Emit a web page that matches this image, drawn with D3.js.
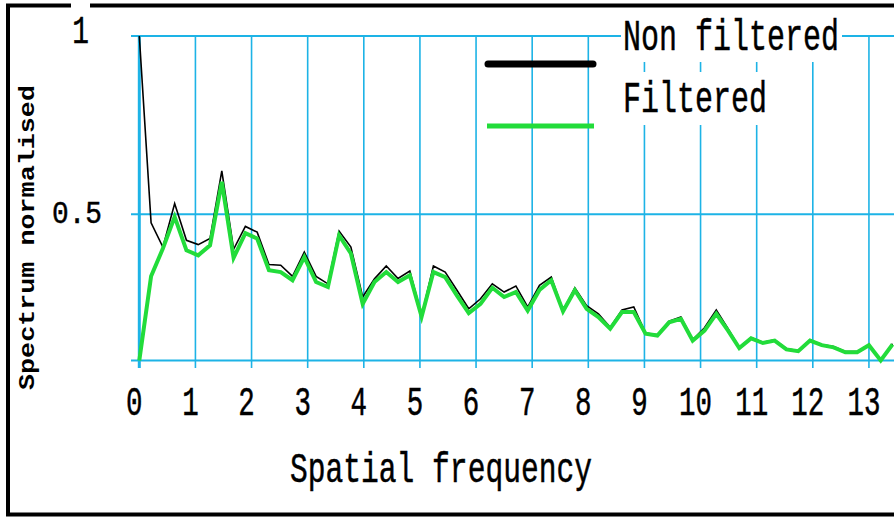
<!DOCTYPE html>
<html>
<head>
<meta charset="utf-8">
<script src="https://cdn.jsdelivr.net/npm/d3@7/dist/d3.min.js"></script>
<style>
  html, body { margin: 0; padding: 0; background: #fff; }
  svg { display: block; }
  text { font-family: "Liberation Mono", "DejaVu Sans Mono", monospace; fill: #000; }
  text.heavy { stroke: #000; stroke-width: 0.5px; }
</style>
</head>
<body>
<svg id="chart" width="894" height="518"></svg>
<script>
// Spatial frequency samples
const freq = [
  0, 0.21, 0.42, 0.63, 0.84, 1.05, 1.26, 1.47, 1.68, 1.89,
  2.10, 2.31, 2.52, 2.73, 2.94, 3.15, 3.36, 3.56, 3.77, 3.98,
  4.19, 4.40, 4.61, 4.82, 5.03, 5.24, 5.45, 5.66, 5.87, 6.08,
  6.29, 6.50, 6.71, 6.92, 7.13, 7.34, 7.55, 7.76, 7.97, 8.18,
  8.39, 8.60, 8.81, 9.02, 9.23, 9.44, 9.65, 9.86, 10.07, 10.28,
  10.49, 10.69, 10.90, 11.11, 11.32, 11.53, 11.74, 11.95, 12.16, 12.37,
  12.58, 12.79, 13.00, 13.21, 13.42
];

// Normalised spectrum, raw signal
const nonFiltered = [
  1.000, 0.476, 0.408, 0.530, 0.427, 0.415, 0.432, 0.622, 0.402, 0.466,
  0.450, 0.359, 0.357, 0.326, 0.394, 0.326, 0.305, 0.453, 0.408, 0.268,
  0.319, 0.355, 0.320, 0.341, 0.216, 0.355, 0.338, 0.287, 0.235, 0.263,
  0.305, 0.282, 0.299, 0.240, 0.301, 0.324, 0.230, 0.294, 0.244, 0.221,
  0.183, 0.232, 0.240, 0.167, 0.162, 0.200, 0.212, 0.148, 0.182, 0.232,
  0.179, 0.127, 0.154, 0.141, 0.148, 0.123, 0.118, 0.148, 0.135, 0.129,
  0.115, 0.115, 0.135, 0.091, 0.137
];

// Normalised spectrum after filtering
const filtered = [
  0.090, 0.326, 0.404, 0.493, 0.399, 0.385, 0.413, 0.591, 0.378, 0.447,
  0.432, 0.343, 0.338, 0.315, 0.380, 0.310, 0.296, 0.441, 0.390, 0.249,
  0.310, 0.338, 0.310, 0.329, 0.213, 0.338, 0.324, 0.272, 0.223, 0.249,
  0.294, 0.268, 0.282, 0.230, 0.288, 0.315, 0.228, 0.287, 0.235, 0.212,
  0.179, 0.226, 0.226, 0.165, 0.160, 0.197, 0.207, 0.146, 0.174, 0.221,
  0.174, 0.125, 0.152, 0.139, 0.146, 0.121, 0.116, 0.146, 0.133, 0.127,
  0.113, 0.113, 0.133, 0.090, 0.135
];

const xTickValues = [0, 1, 2, 3, 4, 5, 6, 7, 8, 9, 10, 11, 12, 13];
const yTickValues = [0.5, 1];
const yBase = 0.09;
const seriesNames = ["Non filtered", "Filtered"];
const xTitle = "Spatial frequency";
const yTitle = "Spectrum normalised";

const GRID = "#1db3e6";
const GREEN = "#22dc3a";
const ADV = 0.6; // monospace advance, in em

const svg = d3.select("#chart");

const x = d3.scaleLinear().domain([0, 13.5]).range([139.3, 897]);
const y = d3.scaleLinear().domain([yBase, 1]).range([360.5, 36]);

// outer frame
svg.append("rect")
  .attr("x", 8).attr("y", 5.5)
  .attr("width", 900).attr("height", 509)
  .attr("fill", "none").attr("stroke", "#000").attr("stroke-width", 4);

const grid = svg.append("g");

// vertical grid lines (extend below the baseline as ticks)
grid.selectAll("line.v").data(xTickValues).join("line")
  .attr("class", "v")
  .attr("x1", d => x(d)).attr("x2", d => x(d))
  .attr("y1", y(1)).attr("y2", y(yBase) + 7.5)
  .attr("stroke", GRID)
  .attr("stroke-width", d => d === 0 ? 3 : 1.6);

// horizontal grid lines
grid.selectAll("line.h").data([yBase].concat(yTickValues)).join("line")
  .attr("class", "h")
  .attr("x1", 131).attr("x2", 900)
  .attr("y1", d => y(d)).attr("y2", d => y(d))
  .attr("stroke", GRID)
  .attr("stroke-width", 2);

// x tick labels, narrow monospace digits
const XT_SIZE = 40, XT_CELL = 16.5;
svg.selectAll("text.xt").data(xTickValues).join("text")
  .attr("class", "xt heavy")
  .attr("text-anchor", "middle")
  .attr("font-size", XT_SIZE)
  .attr("transform", d => `translate(${x(d) - 5},415) scale(${XT_CELL / (ADV * XT_SIZE)},1)`)
  .text(d => d);

// y tick labels, centred, with white backing
const yLab = svg.selectAll("g.yt").data(yTickValues).join("g").attr("class", "yt");
yLab.append("rect")
  .attr("x", d => d === 1 ? 71 : 50)
  .attr("y", d => y(d) - 34)
  .attr("width", d => d === 1 ? 19 : 54)
  .attr("height", 36)
  .attr("fill", "#fff");
yLab.append("text")
  .attr("class", "heavy")
  .attr("text-anchor", "middle")
  .attr("font-size", d => d === 1 ? 38 : 32)
  .attr("transform", d => {
    const size = d === 1 ? 38 : 32;
    const cx = d === 1 ? 80.5 : 77;
    const base = d === 1 ? 43 : 223;
    return `translate(${cx},${base}) scale(${16.7 / (ADV * size)},1)`;
  })
  .text(d => d);

// axis titles
const XTI_SIZE = 42;
svg.append("text")
  .attr("class", "heavy")
  .attr("font-size", XTI_SIZE)
  .attr("transform", `translate(290,482) scale(${302 / (xTitle.length * ADV * XTI_SIZE)},1)`)
  .text(xTitle);

const YTI_SIZE = 22;
svg.append("text")
  .attr("font-size", YTI_SIZE)
  .attr("font-weight", "bold")
  .attr("transform", `translate(34,390) rotate(-90) scale(${305 / (yTitle.length * ADV * YTI_SIZE)},1)`)
  .text(yTitle);

// legend labels on white boxes that mask the grid
const LEG_SIZE = 44, LEG_CELL = 18;
const legendRows = [
  { name: seriesNames[0], box: [621, 10, 221, 52], base: 50 },
  { name: seriesNames[1], box: [621, 72, 150, 53], base: 112 }
];
legendRows.forEach(r => {
  svg.append("rect")
    .attr("x", r.box[0]).attr("y", r.box[1])
    .attr("width", r.box[2]).attr("height", r.box[3])
    .attr("fill", "#fff");
  svg.append("text")
    .attr("class", "heavy")
    .attr("font-size", LEG_SIZE)
    .attr("transform", `translate(623,${r.base}) scale(${LEG_CELL / (ADV * LEG_SIZE)},1)`)
    .text(r.name);
});

// legend swatches
svg.append("line")
  .attr("x1", 488).attr("x2", 593).attr("y1", 64).attr("y2", 64)
  .attr("stroke", "#000").attr("stroke-width", 7).attr("stroke-linecap", "round");
svg.append("line")
  .attr("x1", 487).attr("x2", 594).attr("y1", 126).attr("y2", 126)
  .attr("stroke", GREEN).attr("stroke-width", 5);

// data lines
const line = d3.line().x((d, i) => x(freq[i])).y(d => y(d));

svg.append("path")
  .datum(nonFiltered)
  .attr("d", line)
  .attr("fill", "none")
  .attr("stroke", "#000")
  .attr("stroke-width", 1.6)
  .attr("stroke-linejoin", "miter");

svg.append("path")
  .datum(filtered)
  .attr("d", line)
  .attr("fill", "none")
  .attr("stroke", GREEN)
  .attr("stroke-width", 4);
</script>
</body>
</html>
